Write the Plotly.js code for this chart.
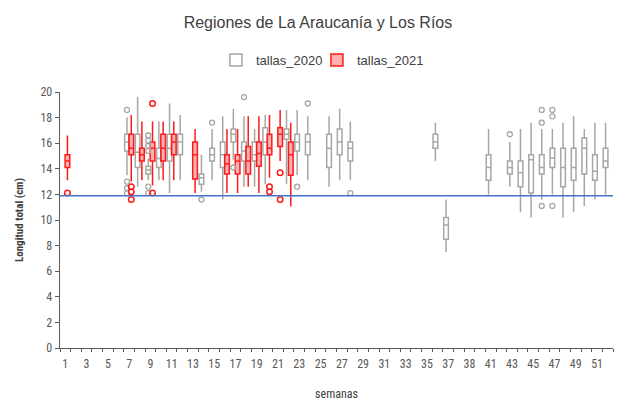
<!DOCTYPE html>
<html>
<head>
<meta charset="utf-8">
<script src="https://cdn.plot.ly/plotly-3.0.1.min.js"></script>
<style>html,body{margin:0;padding:0;background:#fff;}#chart{width:621px;height:405px;}</style>
</head>
<body>
<div id="chart"></div>
<script>
// Category labels (position = index + 1)
const weekLabels = ['1','2','3','4','5','6','7','8','9','10','11','12','13','14','15','16','17','18','19','20',
  '21','22','23','24','25','26','27','28','29','30','31','32','33','34','35','36','37','','38','40',
  '41','42','43','44','45','46','47','48','49','50','51','52'];

// tallas_2020
const pos2020 = [7,8,9,10,11,12,14,15,16,17,18,19,20,22,23,24,26,27,28,36,37,41,43,44,45,46,47,48,49,50,51,52];
const q1_2020  = [15.4,14.1,13.6,14.1,14.6,15.1,12.8,14.6,14.1,16.1,14.6,14.6,15.1,16.3,15.4,15.1,14.1,15.1,14.6,15.6,8.5,13.1,13.6,12.6,12.1,13.6,14.1,12.6,13.1,13.6,13.1,14.1];
const med_2020 = [16.1,15.3,13.9,14.8,15.6,16.1,13.3,15.1,15.1,16.7,15.4,15.1,16.1,16.7,16.1,16.1,15.6,16.1,15.6,16.1,9.6,14.1,14.1,13.7,14.7,14.1,14.85,14.1,14.1,15.6,13.8,14.6];
const q3_2020  = [16.7,16.7,14.2,15.6,16.7,16.7,13.6,15.6,16.1,17.1,16.1,16.1,17.2,17.1,16.7,16.7,16.7,17.1,16.1,16.7,10.2,15.1,14.6,14.6,15.1,15.1,15.6,15.6,15.6,16.4,15.1,15.6];
const lo_2020  = [13.5,12.6,13.1,13.1,12.1,13.1,12.2,13.1,11.6,14.7,12.6,12.6,12.8,12.8,13.5,13.1,12.6,13.1,13.1,14.6,7.5,12.0,12.6,10.6,10.2,11.6,12.0,10.2,10.6,11.1,11.6,12.0];
const hi_2020  = [18.0,19.6,14.8,17.7,19.1,18.2,15.1,17.1,18.1,18.7,18.1,17.1,18.2,18.6,18.6,18.1,18.1,18.7,17.7,17.6,11.6,17.1,16.1,17.1,17.6,17.1,17.1,17.6,18.1,17.1,17.6,17.6];
const outPos2020 = [7,7,7,7,9,9,9,9,9,9,14,15,17,18,23,24,28,43,46,46,46,47,47,47];
const outVal2020 = [18.6,13.0,12.5,12.1,16.6,16.2,15.8,15.4,12.6,12.1,11.6,17.6,14.1,19.6,12.6,19.1,12.1,16.7,18.6,17.6,11.1,18.6,18.1,11.1];

// tallas_2021
const pos2021 = [1,7,8,9,10,11,13,16,17,18,19,20,21,22];
const q1_2021  = [14.1,15.1,14.6,14.6,14.6,15.1,13.2,13.6,13.6,13.6,14.2,15.1,15.75,13.5];
const med_2021 = [14.6,15.6,15.1,15.6,15.6,16.1,15.1,14.4,14.6,14.6,15.2,15.6,16.7,15.1];
const q3_2021  = [15.1,16.7,15.6,16.1,16.7,16.7,16.1,15.1,15.1,15.75,16.1,16.7,17.2,16.1];
const lo_2021  = [13.1,13.0,13.1,12.7,13.1,13.1,12.1,12.1,12.1,12.6,12.1,13.3,14.6,11.05];
const hi_2021  = [16.6,18.2,17.7,17.7,17.7,17.7,17.1,17.1,17.1,18.1,18.1,18.2,18.6,17.6];
const outPos2021 = [1,7,7,7,9,9,20,20,21,21];
const outVal2021 = [12.1,12.6,12.2,11.6,19.1,12.1,12.6,12.2,13.7,11.6];

// reference line
const refLen = 11.9;

const OFF = 0.2;
const gray = '#a6a6a6';
const red = '#ff1a1a';

const traces = [
  {type:'box', name:'tallas_2020', x: pos2020.map(p => p - OFF), q1:q1_2020, median:med_2020, q3:q3_2020,
   lowerfence:lo_2020, upperfence:hi_2020, boxpoints:false, width:0.44, whiskerwidth:0,
   line:{color:gray, width:1.5}, fillcolor:'rgba(255,255,255,0)', hoverinfo:'skip'},
  {type:'box', name:'tallas_2021', x: pos2021.map(p => p + OFF), q1:q1_2021, median:med_2021, q3:q3_2021,
   lowerfence:lo_2021, upperfence:hi_2021, boxpoints:false, width:0.44, whiskerwidth:0,
   line:{color:red, width:1.5}, fillcolor:'rgba(255,100,100,0.5)', hoverinfo:'skip'},
  {type:'scatter', mode:'markers', x: outPos2020.map(p => p - OFF), y: outVal2020, showlegend:false,
   marker:{symbol:'circle-open', size:5, color:gray, line:{width:1.3, color:gray}}, hoverinfo:'skip'},
  {type:'scatter', mode:'markers', x: outPos2021.map(p => p + OFF), y: outVal2021, showlegend:false,
   marker:{symbol:'circle-open', size:5.5, color:red, line:{width:1.5, color:red}}, hoverinfo:'skip'},
  {type:'scatter', mode:'lines', x:[0.5, weekLabels.length + 0.5], y:[refLen, refLen], showlegend:false,
   line:{color:'#4472c4', width:1.5}, hoverinfo:'skip'},
  // empty legend spacer so the last legend label is not clipped
  {type:'scatter', mode:'lines', x:[null], y:[null], name:' ', showlegend:true,
   line:{color:'rgba(0,0,0,0)', width:0}, hoverinfo:'skip'}
];

const tickPos = [];
const tickTxt = [];
for (let i = 0; i < weekLabels.length; i += 2) { tickPos.push(i + 1); tickTxt.push(weekLabels[i]); }

const tickFont = {family:'Liberation Sans Narrow, Roboto Condensed, Liberation Sans, Arial', size:12, color:'#595959'};

const layout = {
  width:621, height:405, autosize:false,
  margin:{l:60, r:8, t:92, b:57, autoexpand:false},
  paper_bgcolor:'#ffffff', plot_bgcolor:'#ffffff',
  showlegend:true,
  title:{text:'Regiones de La Araucanía y Los Ríos', x:0.512, xanchor:'center', yref:'container', y:0.945, yanchor:'middle',
         font:{family:'Liberation Sans, Arial', size:16, color:'#404040'}},
  legend:{orientation:'h', x:0.282, xanchor:'left', y:1.125, yanchor:'middle', itemwidth:30,
          entrywidth:56, entrywidthmode:'pixels', bgcolor:'rgba(0,0,0,0)',
          font:{family:'Liberation Sans, Arial', size:13, color:'#404040'}},
  xaxis:{range:[0.5, weekLabels.length + 0.5], tickmode:'array', tickvals:tickPos, ticktext:tickTxt, tickangle:0,
         ticks:'', showgrid:false, zeroline:false, showline:true, linecolor:'#595959', linewidth:1.3,
         tickfont:tickFont, automargin:false, ticklabelstandoff:4,
         minor:{tickmode:'linear', tick0:0.5, dtick:1, ticks:'outside', ticklen:3, tickcolor:'#595959', tickwidth:1, showgrid:false},
         title:{text:'semanas', standoff:20, font:{family:'Liberation Sans Narrow, Roboto Condensed, Liberation Sans, Arial', size:12, color:'#404040'}}},
  yaxis:{range:[0,20], dtick:2, tick0:0, ticks:'outside', ticklen:4, tickcolor:'#595959', showgrid:false, zeroline:false,
         showline:true, linecolor:'#595959', linewidth:1.3, tickfont:tickFont, automargin:false,
         title:{text:'<b>Longitud total (cm)</b>', standoff:14, font:{family:'Liberation Sans Narrow, Roboto Condensed, Liberation Sans, Arial', size:11, color:'#404040'}}}
};

Plotly.newPlot('chart', traces, layout, {displayModeBar:false, staticPlot:true});
</script>
</body>
</html>
